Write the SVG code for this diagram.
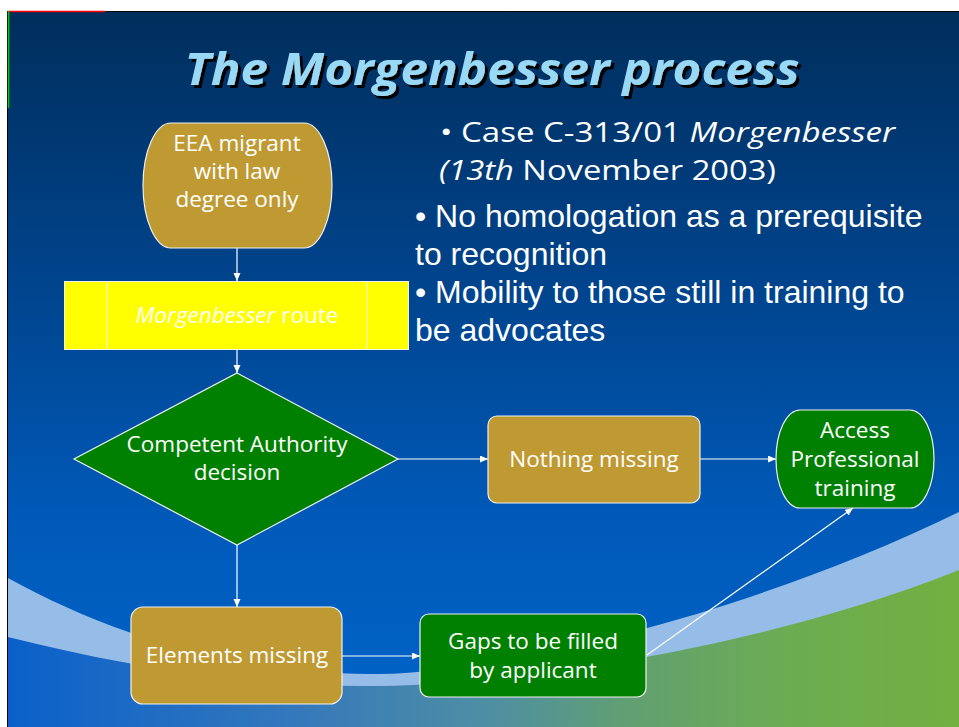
<svg xmlns="http://www.w3.org/2000/svg" width="959" height="727" viewBox="0 0 959 727">
<defs>
<linearGradient id="bg" x1="0" y1="0" x2="0" y2="1">
<stop offset="0" stop-color="#002E5C"/>
<stop offset="0.4" stop-color="#00458F"/>
<stop offset="0.72" stop-color="#005ABA"/>
<stop offset="1" stop-color="#0064C8"/>
</linearGradient>
<linearGradient id="gr" x1="8" y1="0" x2="959" y2="0" gradientUnits="userSpaceOnUse">
<stop offset="0" stop-color="#0A60CA"/>
<stop offset="0.3" stop-color="#3478BC"/>
<stop offset="0.5" stop-color="#4E8EA4"/>
<stop offset="0.66" stop-color="#62A070"/>
<stop offset="0.82" stop-color="#6CAC52"/>
<stop offset="1" stop-color="#72B040"/>
</linearGradient>
<filter id="shadow" x="-5%" y="-20%" width="110%" height="140%">
<feDropShadow dx="3" dy="3" stdDeviation="0.4" flood-color="#000000" flood-opacity="1"/>
</filter>
<marker id="ah" markerWidth="9" markerHeight="8" refX="8" refY="3.5" orient="auto" markerUnits="userSpaceOnUse">
<path d="M0,0 L8,3.5 L0,7 z" fill="#FFFFFF"/>
</marker>
</defs>
<style>
.node{stroke:#F0F0F0;stroke-width:1.2}
.gold{fill:#BF9A33}
.green{fill:#008000}
.lbl{font-family:"Comic Sans MS","Open Sans",sans-serif;font-size:22.5px;fill:#FFFFFF;text-anchor:middle}
.cm{font-family:"Comic Sans MS","Open Sans",sans-serif;font-size:28px;fill:#FFFFFF}
.ar{font-family:"Liberation Sans",Arial,sans-serif;font-size:32px;fill:#FFFFFF}
.it{font-style:italic}
.conn{stroke:#FFFFFF;stroke-width:1.2;fill:none;marker-end:url(#ah)}
</style>
<rect width="959" height="727" fill="#FFFFFF"/>
<rect x="8" y="11" width="951" height="716" fill="url(#bg)"/>
<path d="M8,578 C120,640 250,676 380,674 S760,610 959,512 L959,727 L8,727 Z" fill="#96BDE8"/>
<path d="M8,637 C120,665 250,688 380,686 S760,650 959,570 L959,727 L8,727 Z" fill="url(#gr)"/>
<line x1="7.5" y1="11" x2="7.5" y2="727" stroke="#000000" stroke-width="1"/>
<line x1="7" y1="11.5" x2="959" y2="11.5" stroke="#000000" stroke-width="1"/>
<line x1="8" y1="11.5" x2="105" y2="11.5" stroke="#FF0000" stroke-width="1.5"/>
<line x1="8.5" y1="11" x2="8.5" y2="108" stroke="#00CC00" stroke-width="1.5"/>

<g id="title">
<text x="492" y="85" text-anchor="middle" font-family="'Comic Sans MS','Open Sans',sans-serif" font-size="44" font-weight="bold" font-style="italic" fill="#99D9F5" textLength="615" lengthAdjust="spacingAndGlyphs" filter="url(#shadow)">The Morgenbesser process</text>
</g>

<g id="notes">
<text class="cm" x="440" y="142" textLength="455" lengthAdjust="spacingAndGlyphs">• Case C-313/01 <tspan class="it">Morgenbesser</tspan></text>
<text class="cm" x="439" y="180" textLength="337" lengthAdjust="spacingAndGlyphs"><tspan class="it">(13th</tspan> November 2003)</text>
<text class="ar" x="415" y="227">• No homologation as a prerequisite</text>
<text class="ar" x="415" y="265">to recognition</text>
<text class="ar" x="415" y="303">• Mobility to those still in training to</text>
<text class="ar" x="415" y="341">be advocates</text>
</g>

<g id="connectors">
<line class="conn" x1="237" y1="248" x2="237" y2="281"/>
<line class="conn" x1="237" y1="350" x2="237" y2="373"/>
<line class="conn" x1="398" y1="459" x2="488" y2="459"/>
<line class="conn" x1="700" y1="459" x2="776" y2="459"/>
<line class="conn" x1="237" y1="545" x2="237" y2="607"/>
<line class="conn" x1="342" y1="656" x2="420" y2="656"/>
<line class="conn" x1="647" y1="655" x2="853" y2="508"/>
</g>

<g id="n-eea">
<path class="node gold" d="M171,123 H304 A28,62.5 0 0 1 304,248 H171 A28,62.5 0 0 1 171,123 Z"/>
<text class="lbl" x="237" y="151">EEA migrant</text>
<text class="lbl" x="237" y="179">with law</text>
<text class="lbl" x="237" y="207">degree only</text>
</g>

<g id="n-route">
<rect x="64.5" y="281.5" width="344" height="68" fill="#FFFF00" stroke="#F0F0F0" stroke-width="1"/>
<line x1="107" y1="281.5" x2="107" y2="349.5" stroke="#F0F0F0" stroke-width="1"/>
<line x1="367" y1="281.5" x2="367" y2="349.5" stroke="#F0F0F0" stroke-width="1"/>
<text class="lbl" x="237" y="323"><tspan class="it">Morgenbesser</tspan> route</text>
</g>

<g id="n-decision">
<polygon class="node green" points="237,373 398,459 237,545 74,459"/>
<text class="lbl" x="237" y="452">Competent Authority</text>
<text class="lbl" x="237" y="480">decision</text>
</g>

<g id="n-nothing">
<rect class="node gold" x="488" y="416" width="212" height="87" rx="9"/>
<text class="lbl" x="594" y="467">Nothing missing</text>
</g>

<g id="n-access">
<path class="node green" d="M800,410 H910 A24,49 0 0 1 910,508 H800 A24,49 0 0 1 800,410 Z"/>
<text class="lbl" x="855" y="438">Access</text>
<text class="lbl" x="855" y="467">Professional</text>
<text class="lbl" x="855" y="496">training</text>
</g>

<g id="n-elements">
<rect class="node gold" x="131" y="607" width="211" height="97" rx="12"/>
<text class="lbl" x="237" y="663">Elements missing</text>
</g>

<g id="n-gaps">
<rect class="node green" x="420" y="614" width="226" height="83" rx="9"/>
<text class="lbl" x="533" y="649">Gaps to be filled</text>
<text class="lbl" x="533" y="678">by applicant</text>
</g>
</svg>
